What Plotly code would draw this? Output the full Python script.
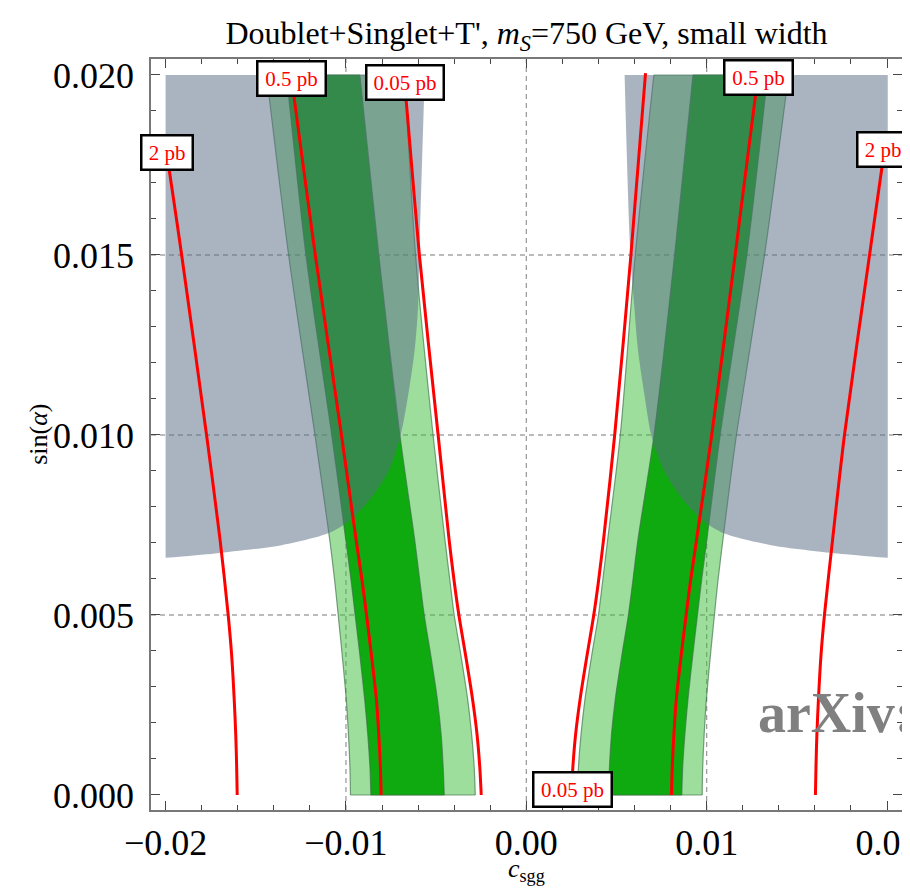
import plotly.graph_objects as go

# ---------------- data ----------------
# common sin(alpha) levels for band boundaries
band_y = [0.0, 0.00077, 0.00167, 0.00269, 0.00389, 0.0050, 0.00593, 0.00713, 0.0100, 0.0150, 0.0200]

# left (negative c_sgg) bands: outer (2 sigma) and inner (1 sigma) edges
left_outer_lo = [-0.00975, -0.00978, -0.00986, -0.00999, -0.01021, -0.01043, -0.01062, -0.01091, -0.01172, -0.01318, -0.01440]
left_inner_lo = [-0.00862, -0.00867, -0.00879, -0.00897, -0.00923, -0.00949, -0.00971, -0.01002, -0.01079, -0.01222, -0.01330]
left_inner_hi = [-0.00455, -0.00461, -0.00472, -0.00494, -0.00530, -0.00566, -0.00590, -0.00620, -0.00701, -0.00818, -0.00923]
left_outer_hi = [-0.00283, -0.00289, -0.00303, -0.00326, -0.00363, -0.00400, -0.00423, -0.00452, -0.00517, -0.00614, -0.00674]

# right (positive c_sgg) bands
right_outer_lo = [0.00283, 0.00289, 0.00303, 0.00326, 0.00363, 0.00400, 0.00423, 0.00452, 0.00521, 0.00604, 0.00707]
right_inner_lo = [0.00455, 0.00461, 0.00472, 0.00494, 0.00530, 0.00566, 0.00590, 0.00620, 0.00708, 0.00822, 0.00924]
right_inner_hi = [0.00862, 0.00867, 0.00879, 0.00897, 0.00923, 0.00949, 0.00971, 0.01002, 0.01075, 0.01223, 0.01338]
right_outer_hi = [0.00975, 0.00978, 0.00986, 0.00999, 0.01021, 0.01043, 0.01062, 0.01091, 0.01165, 0.01321, 0.01454]

# excluded (gray) regions: lower/inner boundary, from the top edge down to the outer edge
gray_left_x = [-0.00563, -0.00591, -0.00600, -0.00618, -0.00655, -0.00701, -0.00766, -0.00877, -0.00988, -0.01099, -0.01357, -0.01726, -0.02000]
gray_left_y = [0.0200, 0.01546, 0.01361, 0.01241, 0.01111, 0.00991, 0.00898, 0.00815, 0.00759, 0.00727, 0.00694, 0.00671, 0.00659]
gray_right_x = [0.00545, 0.00575, 0.00598, 0.00618, 0.00655, 0.00695, 0.00766, 0.00877, 0.00988, 0.01095, 0.01357, 0.01726, 0.02004]
gray_right_y = [0.0200, 0.01520, 0.01361, 0.01241, 0.01111, 0.00995, 0.00898, 0.00815, 0.00759, 0.00727, 0.00694, 0.00671, 0.00659]
gray_top = 0.0200
gray_edge_left = -0.0200
gray_edge_right = 0.02004

# cross-section contours
contour_levels = ["2 pb", "0.5 pb", "0.05 pb"]

c2_left_y = [0.0, 0.00077, 0.00167, 0.00269, 0.00389, 0.0050, 0.00713, 0.0100, 0.0150, 0.0173, 0.0180]
c2_left_x = [-0.01603, -0.01606, -0.01611, -0.01620, -0.01634, -0.01653, -0.01699, -0.01773, -0.01911, -0.01978, -0.02000]
c2_right_y = [0.0, 0.00077, 0.00167, 0.00269, 0.00389, 0.0050, 0.00713, 0.0100, 0.0150, 0.0173, 0.0184]
c2_right_x = [0.01603, 0.01606, 0.01611, 0.01620, 0.01634, 0.01653, 0.01699, 0.01764, 0.01903, 0.01968, 0.02000]

c05_left_y = [0.0, 0.00077, 0.00167, 0.00269, 0.00389, 0.0050, 0.00593, 0.00713, 0.0100, 0.0150, 0.01935, 0.0200]
c05_left_x = [-0.00805, -0.00809, -0.00818, -0.00832, -0.00859, -0.00886, -0.00910, -0.00945, -0.01025, -0.01170, -0.01287, -0.01304]
c05_right_y = [0.0, 0.00077, 0.00167, 0.00269, 0.00389, 0.0050, 0.00593, 0.00713, 0.0100, 0.0150, 0.01944, 0.0200]
c05_right_x = [0.00805, 0.00809, 0.00818, 0.00832, 0.00859, 0.00886, 0.00910, 0.00945, 0.01028, 0.01158, 0.01271, 0.01288]

c005_left_y = [0.0, 0.00077, 0.00167, 0.00269, 0.00389, 0.0050, 0.00593, 0.00713, 0.0100, 0.0150, 0.01917, 0.0200]
c005_left_x = [-0.00250, -0.00258, -0.00273, -0.00299, -0.00337, -0.00374, -0.00400, -0.00429, -0.00489, -0.00593, -0.00664, -0.00680]
c005_right_y = [0.0, 0.00077, 0.00167, 0.00269, 0.00389, 0.0050, 0.00593, 0.00713, 0.0100, 0.0150, 0.02005]
c005_right_x = [0.00250, 0.00258, 0.00273, 0.00299, 0.00337, 0.00374, 0.00400, 0.00429, 0.00490, 0.00580, 0.00661]

x_ticks = [-0.02, -0.01, 0.0, 0.01, 0.02]
y_ticks = [0.0, 0.005, 0.010, 0.015, 0.020]
x_grid = [-0.01, 0.0, 0.01]
y_grid = [0.005, 0.010, 0.015]

# ---------------- figure ----------------
SERIF = "Liberation Serif, Times New Roman, serif"
LIGHT = "rgba(60,190,60,0.5)"
DARK = "rgb(15,170,15)"
EDGE = "rgba(60,110,70,0.65)"
GRAY = "rgba(88,108,133,0.51)"
SPL = dict(shape="spline", smoothing=0.8)

fig = go.Figure()


def band(lo, hi, color):
    # left edge (no fill), then right edge filled back to the left edge
    fig.add_trace(go.Scatter(x=lo, y=band_y, mode="lines", line=dict(color=EDGE, width=1.2, **SPL),
                             hoverinfo="skip", showlegend=False))
    fig.add_trace(go.Scatter(x=hi, y=band_y, mode="lines", fill="tonexty", fillcolor=color,
                             line=dict(color=EDGE, width=1.2, **SPL), hoverinfo="skip", showlegend=False))
    # bottom and top edges of the band
    for k in (0, -1):
        fig.add_trace(go.Scatter(x=[lo[k], hi[k]], y=[band_y[k], band_y[k]], mode="lines",
                                 line=dict(color=EDGE, width=1.2), hoverinfo="skip", showlegend=False))


band(left_outer_lo, left_outer_hi, LIGHT)
band(right_outer_lo, right_outer_hi, LIGHT)
band(left_inner_lo, left_inner_hi, DARK)
band(right_inner_lo, right_inner_hi, DARK)


def gray_region(bx, by, edge_x):
    # top edge ordered so that its reverse starts at the outer corner
    fig.add_trace(go.Scatter(x=[bx[0], edge_x], y=[gray_top, gray_top], mode="lines",
                             line=dict(width=0), hoverinfo="skip", showlegend=False))
    fig.add_trace(go.Scatter(x=bx, y=by, mode="lines", fill="tonexty", fillcolor=GRAY,
                             line=dict(width=0, **SPL), hoverinfo="skip", showlegend=False))


gray_region(gray_left_x, gray_left_y, gray_edge_left)
gray_region(gray_right_x, gray_right_y, gray_edge_right)

# red contours
for xs, ys in [(c2_left_x, c2_left_y), (c2_right_x, c2_right_y),
               (c05_left_x, c05_left_y), (c05_right_x, c05_right_y),
               (c005_left_x, c005_left_y), (c005_right_x, c005_right_y)]:
    fig.add_trace(go.Scatter(x=xs, y=ys, mode="lines", line=dict(color="#ff0000", width=3, **SPL),
                             hoverinfo="skip", showlegend=False))

# grid lines (below traces)
shapes = []
for gxv in x_grid:
    shapes.append(dict(type="line", xref="x", yref="paper", x0=gxv, x1=gxv, y0=0, y1=1, layer="below",
                       line=dict(color="rgb(150,150,150)", width=1.2, dash="5px,4px")))
for gyv in y_grid:
    shapes.append(dict(type="line", xref="paper", yref="y", x0=0, x1=1, y0=gyv, y1=gyv, layer="below",
                       line=dict(color="rgb(120,120,120)", width=1.2, dash="5px,4px")))


def label(text, x, y, w):
    return dict(x=x, y=y, xref="x", yref="y", text=text, showarrow=False,
                font=dict(family=SERIF, size=21, color="#ff0000"),
                bgcolor="white", bordercolor="black", borderwidth=2.5, borderpad=2,
                width=w, height=28, align="center", valign="middle")


annotations = [
    label(contour_levels[1], -0.0130, 0.0199, 62),
    label(contour_levels[2], -0.00674, 0.0198, 71),
    label(contour_levels[0], -0.0199, 0.01785, 45),
    label(contour_levels[1], 0.01289, 0.01994, 62),
    label(contour_levels[0], 0.01979, 0.01794, 45),
    label(contour_levels[2], 0.00254, 0.00016, 72),
    # axis titles
    dict(x=0.5, y=-0.0805, xref="paper", yref="paper", text="<i>c</i><sub>sgg</sub>", showarrow=False,
         font=dict(family=SERIF, size=26, color="black"), xanchor="center", yanchor="middle"),
    dict(x=-0.150, y=0.5, xref="paper", yref="paper", text="sin(<i>α</i>)", showarrow=False, textangle=-90,
         font=dict(family=SERIF, size=26, color="black"), xanchor="center", yanchor="middle"),
    # watermark
    dict(x=0.806, y=0.129, xref="paper", yref="paper", text="<b>arXiv:</b>", showarrow=False,
         font=dict(family=SERIF, size=56, color="rgb(128,128,128)"), xanchor="left", yanchor="middle"),
]

axis_common = dict(showline=True, linecolor="rgb(120,120,120)", linewidth=1.5, mirror="allticks",
                   ticks="inside", ticklen=9, tickwidth=1.2, tickcolor="rgb(70,70,70)",
                   showgrid=False, zeroline=False, ticklabeloverflow="allow",
                   tickfont=dict(family=SERIF, size=36, color="black"))

fig.update_layout(
    width=910, height=888,
    margin=dict(l=143, r=16, t=51, b=86, autoexpand=False),
    paper_bgcolor="white", plot_bgcolor="white",
    title=dict(text="Doublet+Singlet+T', <i>m</i><sub><i>S</i></sub>=750 GeV, small width",
               x=0.5, xref="paper", xanchor="center", y=1 - 25 / 888, yref="container", yanchor="middle",
               font=dict(family=SERIF, size=32, color="black")),
    xaxis=dict(range=[-0.02081, 0.02083], tickvals=x_ticks, tickformat=".2f", automargin=False,
               minor=dict(dtick=0.002, tick0=0, ticks="inside", ticklen=5, tickcolor="rgb(70,70,70)", showgrid=False),
               ticklabelstandoff=0, **axis_common),
    yaxis=dict(range=[-0.000417, 0.020444], tickvals=y_ticks, tickformat=".3f", automargin=False,
               minor=dict(dtick=0.001, tick0=0, ticks="inside", ticklen=5, tickcolor="rgb(70,70,70)", showgrid=False),
               ticklabelstandoff=8, **axis_common),
    shapes=shapes,
    annotations=annotations,
)

fig.write_html("out.html")
